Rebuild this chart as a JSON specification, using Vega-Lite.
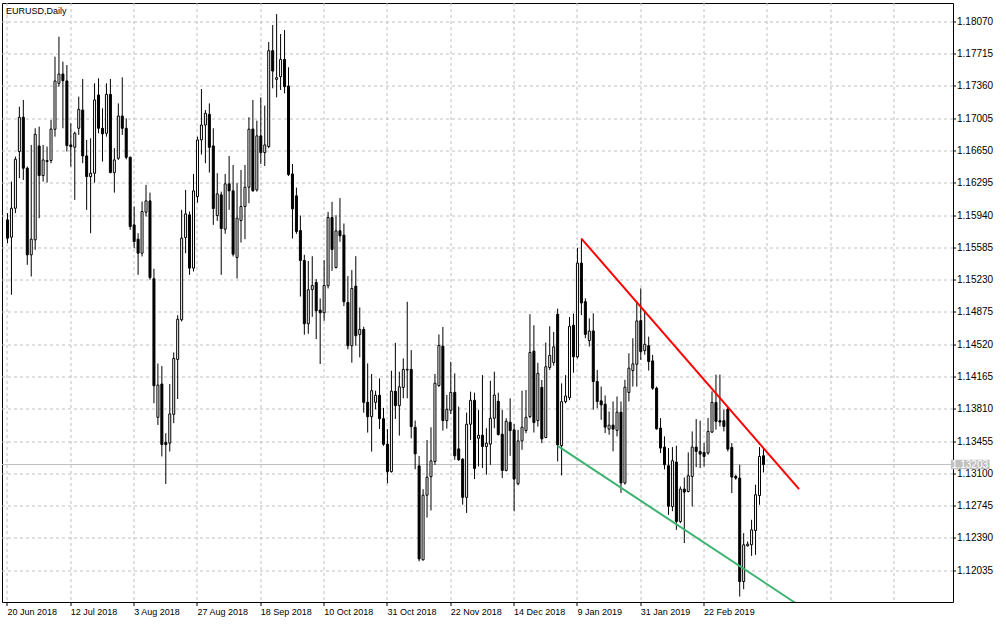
{
"$schema": "https://vega.github.io/schema/vega-lite/v6.json",
"width": 951, "height": 599,
"autosize": {"type": "none"},
"padding": {"left": 2, "top": 3, "right": 53, "bottom": 22},
"background": "white",
"config": {"view": {"stroke": "black", "strokeWidth": 1}, "font": "Liberation Sans"},
"title": {"text": "EURUSD,Daily", "anchor": "start", "frame": "group", "orient": "top", "offset": 0, "dy": 20, "baseline": "alphabetic", "font": "Liberation Sans", "fontSize": 9, "fontWeight": "normal", "color": "#000000", "dx": 4},
"data": {"values": [
{"i":0,"o":1.15892,"h":1.15966,"l":1.15636,"c":1.15691},
{"i":1,"o":1.15702,"h":1.16313,"l":1.15069,"c":1.1602},
{"i":2,"o":1.1602,"h":1.16588,"l":1.15966,"c":1.16558},
{"i":3,"o":1.16643,"h":1.17137,"l":1.1635,"c":1.1702},
{"i":4,"o":1.1702,"h":1.1721,"l":1.16331,"c":1.1646},
{"i":5,"o":1.1646,"h":1.16478,"l":1.15398,"c":1.15508},
{"i":6,"o":1.15508,"h":1.16716,"l":1.1527,"c":1.1568},
{"i":7,"o":1.15673,"h":1.16899,"l":1.15563,"c":1.16833},
{"i":8,"o":1.16705,"h":1.16917,"l":1.15911,"c":1.16379},
{"i":9,"o":1.16379,"h":1.16716,"l":1.16313,"c":1.16551},
{"i":10,"o":1.16533,"h":1.16698,"l":1.16302,"c":1.16544},
{"i":11,"o":1.16544,"h":1.1699,"l":1.16515,"c":1.16891},
{"i":12,"o":1.16888,"h":1.17686,"l":1.16807,"c":1.17419},
{"i":13,"o":1.17393,"h":1.17905,"l":1.17356,"c":1.17495},
{"i":14,"o":1.17495,"h":1.17631,"l":1.16899,"c":1.17422},
{"i":15,"o":1.17419,"h":1.17594,"l":1.16643,"c":1.16709},
{"i":16,"o":1.16716,"h":1.16954,"l":1.16478,"c":1.16698},
{"i":17,"o":1.1669,"h":1.16862,"l":1.16112,"c":1.16844},
{"i":18,"o":1.16899,"h":1.17247,"l":1.16826,"c":1.17107},
{"i":19,"o":1.171,"h":1.17441,"l":1.16515,"c":1.16595},
{"i":20,"o":1.16595,"h":1.16771,"l":1.16002,"c":1.16368},
{"i":21,"o":1.16368,"h":1.16789,"l":1.15746,"c":1.16405},
{"i":22,"o":1.16405,"h":1.17393,"l":1.16302,"c":1.1721},
{"i":23,"o":1.17265,"h":1.17448,"l":1.16844,"c":1.16899},
{"i":24,"o":1.16899,"h":1.17118,"l":1.16533,"c":1.16837},
{"i":25,"o":1.16844,"h":1.17393,"l":1.16807,"c":1.17272},
{"i":26,"o":1.17272,"h":1.17441,"l":1.16405,"c":1.16412},
{"i":27,"o":1.16412,"h":1.1668,"l":1.16192,"c":1.16551},
{"i":28,"o":1.16569,"h":1.17173,"l":1.16551,"c":1.17034},
{"i":29,"o":1.17034,"h":1.17459,"l":1.16826,"c":1.16899},
{"i":30,"o":1.16899,"h":1.17009,"l":1.16558,"c":1.1658},
{"i":31,"o":1.1658,"h":1.16588,"l":1.15783,"c":1.15819},
{"i":32,"o":1.15837,"h":1.16039,"l":1.15581,"c":1.15654},
{"i":33,"o":1.1568,"h":1.15746,"l":1.15288,"c":1.15526},
{"i":34,"o":1.15526,"h":1.16094,"l":1.1549,"c":1.15984},
{"i":35,"o":1.15977,"h":1.16277,"l":1.15929,"c":1.16101},
{"i":36,"o":1.16101,"h":1.16192,"l":1.15234,"c":1.15259},
{"i":37,"o":1.15245,"h":1.15355,"l":1.13876,"c":1.14069},
{"i":38,"o":1.13722,"h":1.14314,"l":1.13638,"c":1.14077},
{"i":39,"o":1.14088,"h":1.14285,"l":1.13292,"c":1.13423},
{"i":40,"o":1.13445,"h":1.13547,"l":1.12988,"c":1.13423},
{"i":41,"o":1.13438,"h":1.14088,"l":1.13346,"c":1.13759},
{"i":42,"o":1.13755,"h":1.14435,"l":1.13657,"c":1.14369},
{"i":43,"o":1.14358,"h":1.14844,"l":1.13923,"c":1.148},
{"i":44,"o":1.14794,"h":1.16002,"l":1.14776,"c":1.15691},
{"i":45,"o":1.15698,"h":1.16222,"l":1.15526,"c":1.15958},
{"i":46,"o":1.15947,"h":1.15984,"l":1.15288,"c":1.15362},
{"i":47,"o":1.15362,"h":1.16397,"l":1.15325,"c":1.16211},
{"i":48,"o":1.16149,"h":1.16807,"l":1.16083,"c":1.16771},
{"i":49,"o":1.16771,"h":1.17331,"l":1.1661,"c":1.16935},
{"i":50,"o":1.16935,"h":1.171,"l":1.16515,"c":1.17064},
{"i":51,"o":1.17053,"h":1.17173,"l":1.16412,"c":1.1669},
{"i":52,"o":1.16705,"h":1.16899,"l":1.15837,"c":1.16017},
{"i":53,"o":1.1594,"h":1.16405,"l":1.15881,"c":1.16178},
{"i":54,"o":1.16167,"h":1.16203,"l":1.15288,"c":1.15797},
{"i":55,"o":1.1579,"h":1.16397,"l":1.15739,"c":1.16288},
{"i":56,"o":1.16288,"h":1.16595,"l":1.16002,"c":1.16211},
{"i":57,"o":1.16211,"h":1.16496,"l":1.1549,"c":1.15515},
{"i":58,"o":1.15479,"h":1.16295,"l":1.15248,"c":1.15911},
{"i":59,"o":1.15885,"h":1.16441,"l":1.15643,"c":1.16039},
{"i":60,"o":1.16039,"h":1.16496,"l":1.1568,"c":1.16251},
{"i":61,"o":1.16251,"h":1.1702,"l":1.16075,"c":1.16888},
{"i":62,"o":1.16891,"h":1.1721,"l":1.16203,"c":1.16211},
{"i":63,"o":1.16222,"h":1.16983,"l":1.16203,"c":1.16815},
{"i":64,"o":1.16815,"h":1.17239,"l":1.16507,"c":1.16632},
{"i":65,"o":1.16632,"h":1.17148,"l":1.16485,"c":1.16716},
{"i":66,"o":1.16698,"h":1.17847,"l":1.1668,"c":1.17752},
{"i":67,"o":1.17752,"h":1.18033,"l":1.17338,"c":1.17528},
{"i":68,"o":1.17437,"h":1.18154,"l":1.17239,"c":1.17455},
{"i":69,"o":1.17466,"h":1.17935,"l":1.1732,"c":1.17656},
{"i":70,"o":1.17656,"h":1.17979,"l":1.17283,"c":1.17356},
{"i":71,"o":1.17364,"h":1.17569,"l":1.16375,"c":1.1639},
{"i":72,"o":1.16397,"h":1.16507,"l":1.15687,"c":1.16013},
{"i":73,"o":1.16156,"h":1.16247,"l":1.15739,"c":1.15764},
{"i":74,"o":1.15775,"h":1.1594,"l":1.1505,"c":1.15446},
{"i":75,"o":1.15446,"h":1.15508,"l":1.1463,"c":1.1475},
{"i":76,"o":1.1475,"h":1.1544,"l":1.1464,"c":1.15124},
{"i":77,"o":1.15127,"h":1.15493,"l":1.14827,"c":1.15171},
{"i":78,"o":1.15204,"h":1.15241,"l":1.14582,"c":1.14893},
{"i":79,"o":1.149,"h":1.15029,"l":1.14308,"c":1.14871},
{"i":80,"o":1.14871,"h":1.1545,"l":1.14783,"c":1.15171},
{"i":81,"o":1.15168,"h":1.1598,"l":1.15138,"c":1.15918},
{"i":82,"o":1.15918,"h":1.1609,"l":1.15332,"c":1.15567},
{"i":83,"o":1.15369,"h":1.15944,"l":1.15358,"c":1.15772},
{"i":84,"o":1.15772,"h":1.16132,"l":1.15651,"c":1.15717},
{"i":85,"o":1.15724,"h":1.15852,"l":1.14944,"c":1.14992},
{"i":86,"o":1.14985,"h":1.15274,"l":1.14469,"c":1.14509},
{"i":87,"o":1.14509,"h":1.1534,"l":1.14322,"c":1.15138},
{"i":88,"o":1.15164,"h":1.15493,"l":1.14509,"c":1.14619},
{"i":89,"o":1.14633,"h":1.1493,"l":1.14381,"c":1.14688},
{"i":90,"o":1.14688,"h":1.14718,"l":1.13773,"c":1.13887},
{"i":91,"o":1.13887,"h":1.14315,"l":1.13554,"c":1.13729},
{"i":92,"o":1.13729,"h":1.14198,"l":1.13345,"c":1.14015},
{"i":93,"o":1.13887,"h":1.14015,"l":1.1381,"c":1.13964},
{"i":94,"o":1.13964,"h":1.1415,"l":1.13594,"c":1.13707},
{"i":95,"o":1.13707,"h":1.13826,"l":1.13408,"c":1.13426},
{"i":96,"o":1.13426,"h":1.13591,"l":1.12997,"c":1.13125},
{"i":97,"o":1.13125,"h":1.14234,"l":1.13114,"c":1.1401},
{"i":98,"o":1.14008,"h":1.1454,"l":1.13704,"c":1.1385},
{"i":99,"o":1.1385,"h":1.14223,"l":1.13521,"c":1.14057},
{"i":100,"o":1.1405,"h":1.1437,"l":1.13931,"c":1.14249},
{"i":101,"o":1.14242,"h":1.14992,"l":1.13931,"c":1.14249},
{"i":102,"o":1.14249,"h":1.14461,"l":1.13491,"c":1.1362},
{"i":103,"o":1.13613,"h":1.13686,"l":1.13151,"c":1.1332},
{"i":104,"o":1.13188,"h":1.13297,"l":1.12139,"c":1.12165},
{"i":105,"o":1.12156,"h":1.12932,"l":1.12147,"c":1.12866},
{"i":106,"o":1.12866,"h":1.13473,"l":1.1262,"c":1.13064},
{"i":107,"o":1.13069,"h":1.13612,"l":1.12697,"c":1.13243},
{"i":108,"o":1.13236,"h":1.14198,"l":1.13199,"c":1.14097},
{"i":109,"o":1.14071,"h":1.14633,"l":1.14057,"c":1.14513},
{"i":110,"o":1.14504,"h":1.14716,"l":1.13576,"c":1.13686},
{"i":111,"o":1.13686,"h":1.13967,"l":1.13598,"c":1.1381},
{"i":112,"o":1.13799,"h":1.14332,"l":1.13759,"c":1.13996},
{"i":113,"o":1.13996,"h":1.14205,"l":1.13255,"c":1.13299},
{"i":114,"o":1.13375,"h":1.13839,"l":1.13244,"c":1.13255},
{"i":115,"o":1.13262,"h":1.13273,"l":1.12762,"c":1.12842},
{"i":116,"o":1.12842,"h":1.13774,"l":1.12671,"c":1.13646},
{"i":117,"o":1.13646,"h":1.14004,"l":1.13474,"c":1.13909},
{"i":118,"o":1.13909,"h":1.13993,"l":1.13043,"c":1.1316},
{"i":119,"o":1.13492,"h":1.13803,"l":1.13182,"c":1.13525},
{"i":120,"o":1.13525,"h":1.14186,"l":1.13164,"c":1.13401},
{"i":121,"o":1.13401,"h":1.13602,"l":1.13091,"c":1.13438},
{"i":122,"o":1.13427,"h":1.14124,"l":1.132,"c":1.13712},
{"i":123,"o":1.13712,"h":1.14223,"l":1.13602,"c":1.13967},
{"i":124,"o":1.13898,"h":1.13993,"l":1.13522,"c":1.13533},
{"i":125,"o":1.13536,"h":1.13803,"l":1.13054,"c":1.13138},
{"i":126,"o":1.13138,"h":1.13712,"l":1.13127,"c":1.13679},
{"i":127,"o":1.13668,"h":1.13931,"l":1.13299,"c":1.13576},
{"i":128,"o":1.13584,"h":1.13649,"l":1.12689,"c":1.13043},
{"i":129,"o":1.12992,"h":1.13584,"l":1.12974,"c":1.13463},
{"i":130,"o":1.13463,"h":1.14015,"l":1.13365,"c":1.13613},
{"i":131,"o":1.13576,"h":1.14022,"l":1.13547,"c":1.13722},
{"i":132,"o":1.1373,"h":1.14855,"l":1.13712,"c":1.14435},
{"i":133,"o":1.14449,"h":1.14734,"l":1.13555,"c":1.13664},
{"i":134,"o":1.13686,"h":1.14321,"l":1.1362,"c":1.14205},
{"i":135,"o":1.14051,"h":1.14132,"l":1.13438,"c":1.13485},
{"i":136,"o":1.135,"h":1.14544,"l":1.13492,"c":1.14278},
{"i":137,"o":1.1427,"h":1.14723,"l":1.14241,"c":1.14402},
{"i":138,"o":1.14325,"h":1.14661,"l":1.1429,"c":1.14497},
{"i":139,"o":1.14855,"h":1.14917,"l":1.13237,"c":1.13419},
{"i":140,"o":1.13412,"h":1.14095,"l":1.13083,"c":1.13894},
{"i":141,"o":1.13894,"h":1.14186,"l":1.13876,"c":1.13956},
{"i":142,"o":1.13938,"h":1.14825,"l":1.1391,"c":1.14723},
{"i":143,"o":1.14734,"h":1.14862,"l":1.14212,"c":1.14387},
{"i":144,"o":1.14387,"h":1.15585,"l":1.1437,"c":1.15417},
{"i":145,"o":1.15417,"h":1.15687,"l":1.14846,"c":1.14979},
{"i":146,"o":1.14993,"h":1.15029,"l":1.14591,"c":1.14634},
{"i":147,"o":1.14565,"h":1.1481,"l":1.14499,"c":1.14671},
{"i":148,"o":1.14671,"h":1.14865,"l":1.13805,"c":1.14115},
{"i":149,"o":1.14115,"h":1.14243,"l":1.13823,"c":1.13896},
{"i":150,"o":1.13903,"h":1.1406,"l":1.13695,"c":1.13859},
{"i":151,"o":1.13866,"h":1.13962,"l":1.13549,"c":1.13614},
{"i":152,"o":1.13592,"h":1.13786,"l":1.1353,"c":1.13636},
{"i":153,"o":1.13636,"h":1.13896,"l":1.13348,"c":1.13592},
{"i":154,"o":1.13578,"h":1.13951,"l":1.13512,"c":1.13779},
{"i":155,"o":1.13779,"h":1.13896,"l":1.12891,"c":1.13},
{"i":156,"o":1.13,"h":1.14134,"l":1.12982,"c":1.14053},
{"i":157,"o":1.13995,"h":1.14426,"l":1.13896,"c":1.14262},
{"i":158,"o":1.14236,"h":1.14591,"l":1.1406,"c":1.14309},
{"i":159,"o":1.14305,"h":1.14993,"l":1.1406,"c":1.14781},
{"i":160,"o":1.14785,"h":1.15139,"l":1.14353,"c":1.14444},
{"i":161,"o":1.14455,"h":1.14901,"l":1.1441,"c":1.14525},
{"i":162,"o":1.1451,"h":1.14609,"l":1.14236,"c":1.14335},
{"i":163,"o":1.14342,"h":1.14408,"l":1.14024,"c":1.14042},
{"i":164,"o":1.14042,"h":1.1406,"l":1.13585,"c":1.13596},
{"i":165,"o":1.13603,"h":1.13713,"l":1.13329,"c":1.13384},
{"i":166,"o":1.13395,"h":1.13512,"l":1.1315,"c":1.13201},
{"i":167,"o":1.1319,"h":1.13384,"l":1.1265,"c":1.12744},
{"i":168,"o":1.12742,"h":1.13395,"l":1.1269,"c":1.13245},
{"i":169,"o":1.1323,"h":1.1341,"l":1.12485,"c":1.12577},
{"i":170,"o":1.12577,"h":1.12962,"l":1.12559,"c":1.12933},
{"i":171,"o":1.12933,"h":1.13061,"l":1.12339,"c":1.129},
{"i":172,"o":1.12907,"h":1.13336,"l":1.12896,"c":1.1308},
{"i":173,"o":1.13072,"h":1.13567,"l":1.12742,"c":1.13395},
{"i":174,"o":1.13395,"h":1.13703,"l":1.13175,"c":1.13347},
{"i":175,"o":1.13347,"h":1.13685,"l":1.13164,"c":1.13318},
{"i":176,"o":1.13336,"h":1.13439,"l":1.13182,"c":1.13292},
{"i":177,"o":1.13329,"h":1.13714,"l":1.13311,"c":1.13567},
{"i":178,"o":1.1356,"h":1.14007,"l":1.13549,"c":1.13886},
{"i":179,"o":1.13886,"h":1.14191,"l":1.13586,"c":1.13677},
{"i":180,"o":1.13685,"h":1.14191,"l":1.13622,"c":1.1367},
{"i":181,"o":1.13685,"h":1.13806,"l":1.13567,"c":1.13622},
{"i":182,"o":1.13813,"h":1.13835,"l":1.13347,"c":1.13373},
{"i":183,"o":1.13391,"h":1.13439,"l":1.12889,"c":1.13065},
{"i":184,"o":1.13072,"h":1.1309,"l":1.13036,"c":1.13054},
{"i":185,"o":1.13054,"h":1.13201,"l":1.11752,"c":1.11917},
{"i":186,"o":1.11917,"h":1.12449,"l":1.11833,"c":1.12321},
{"i":187,"o":1.12309,"h":1.12357,"l":1.12302,"c":1.12328},
{"i":188,"o":1.12321,"h":1.12596,"l":1.12199,"c":1.12485},
{"i":189,"o":1.12478,"h":1.12981,"l":1.1221,"c":1.12871},
{"i":190,"o":1.12863,"h":1.13395,"l":1.12761,"c":1.13292},
{"i":191,"o":1.13299,"h":1.13384,"l":1.13116,"c":1.13203}
]},
"encoding": {
  "y": {"field": "l", "type": "quantitative", "title": null,
        "scale": {"domain": [1.11692, 1.18276], "nice": false, "zero": false},
        "axis": {"orient": "right", "values": [1.12035,1.1239,1.12745,1.131,1.13455,1.1381,1.14165,1.1452,1.14875,1.1523,1.15585,1.1594,1.16295,1.1665,1.17005,1.1736,1.17715,1.1807],
                 "format": ".5f", "labelFont": "Liberation Sans", "labelFontSize": 10, "labelColor": "black", "labelPadding": 1,
                 "labelOverlap": false, "labelBound": false, "labelFlush": false,
                 "tickSize": 3, "tickColor": "black", "grid": true, "gridColor": "#c0c0c0", "gridDash": [3,3], "domain": false, "title": null, "translate": 0}}
},
"layer": [
{"data": {"values": [{"l": 1.13203}]},
 "mark": {"type": "rule", "color": "#c0c0c0", "strokeWidth": 1},
 "encoding": {}},
{"mark": {"type": "rule", "color": "black", "strokeWidth": 1},
 "encoding": {
  "x": {"field": "i", "type": "quantitative", "title": null,
        "scale": {"domain": [-0.125, 237.625], "nice": false, "zero": false},
        "axis": {"orient": "bottom", "values": [0,8,16,24,32,40,48,56,64,72,80,88,96,104,112,120,128,136,144,152,160,168,176,184,192,200,208,216,224,232],
                 "labelExpr": "['20 Jun 2018','12 Jul 2018','3 Aug 2018','27 Aug 2018','18 Sep 2018','10 Oct 2018','31 Oct 2018','22 Nov 2018','14 Dec 2018','9 Jan 2019','31 Jan 2019','22 Feb 2019'][datum.value/16] || ''",
                 "labelAlign": "left", "labelBaseline": "top", "labelFont": "Liberation Sans", "labelFontSize": 9, "labelColor": "black", "labelPadding": 2,
                 "labelOverlap": false, "labelBound": false, "labelFlush": false,
                 "tickSize": 4, "tickColor": "black", "tickOpacity": {"condition": {"test": "datum.value % 16 === 0 && datum.value <= 176", "value": 1}, "value": 0},
                 "grid": true, "gridColor": "#c0c0c0", "gridDash": [3,3], "domain": false, "title": null, "translate": 0}},
  "y2": {"field": "h"}}},
{"mark": {"type": "bar", "size": 2, "stroke": "black", "strokeWidth": 1},
 "encoding": {
  "x": {"field": "i", "type": "quantitative", "title": null, "scale": {"domain": [-0.125, 237.625], "nice": false, "zero": false}},
  "y": {"field": "o", "type": "quantitative", "title": null},
  "y2": {"field": "c"},
  "fill": {"condition": {"test": "datum.c >= datum.o", "value": "white"}, "value": "black"}}},
{"data": {"values": [{"i": 145, "l": 1.15687}, {"i": 200, "l": 1.12933}]},
 "mark": {"type": "line", "color": "#ff0000", "strokeWidth": 2, "clip": true},
 "encoding": {"x": {"field": "i", "type": "quantitative", "title": null, "scale": {"domain": [-0.125, 237.625], "nice": false, "zero": false}}}},
{"data": {"values": [{"i": 139, "l": 1.13408}, {"i": 199, "l": 1.11684}]},
 "mark": {"type": "line", "color": "#3cb371", "strokeWidth": 2, "clip": true},
 "encoding": {"x": {"field": "i", "type": "quantitative", "title": null, "scale": {"domain": [-0.125, 237.625], "nice": false, "zero": false}}}},
{"data": {"values": [{"l": 1.13203}]},
 "mark": {"type": "rect", "color": "#c0c0c0", "opacity": 1, "yOffset": -4.8, "y2Offset": 4.8, "clip": false},
 "encoding": {"x": {"datum": 238.375, "type": "quantitative", "title": null}, "x2": {"datum": 248.125}, "y2": {"field": "l"}}},
{"data": {"values": [{"l": 1.13203}]},
 "mark": {"type": "text", "align": "left", "baseline": "middle", "color": "white", "font": "Liberation Sans", "fontSize": 10, "clip": false},
 "encoding": {
  "x": {"datum": 238.6, "type": "quantitative", "title": null},
  "text": {"field": "l", "type": "quantitative", "format": ".5f"}}}
]
}
